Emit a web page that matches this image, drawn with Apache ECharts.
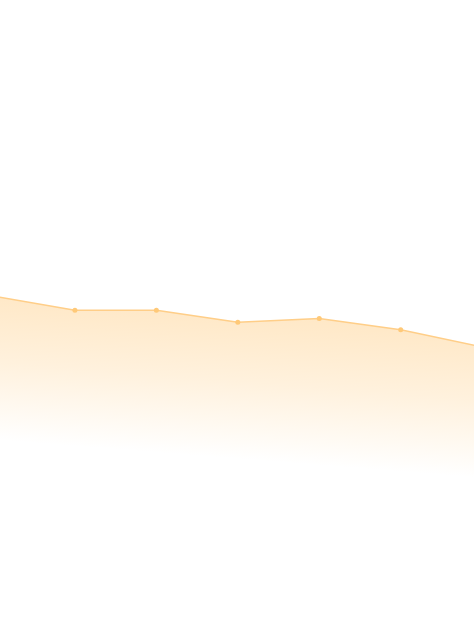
<!DOCTYPE html>
<html>
<head>
<meta charset="utf-8">
<script src="https://cdn.jsdelivr.net/npm/echarts@6/dist/echarts.min.js"></script>
<style>
html,body{margin:0;padding:0;background:#fff;}
#chart{width:474px;height:633px;}
</style>
</head>
<body>
<div id="chart"></div>
<script>
var categories = [0, 1, 2, 3, 4, 5, 6];
var values = [53.2, 51.0, 51.0, 49.1, 49.7, 47.9, 45.2];

var seriesData = categories.map(function (c, i) { return [c, values[i]]; });

var chart = echarts.init(document.getElementById('chart'), null, {renderer: 'canvas'});
chart.setOption({
  animation: false,
  backgroundColor: '#ffffff',
  grid: {left: 0, right: 0, top: 0, bottom: 0, containLabel: false},
  xAxis: {
    type: 'value',
    min: 0.08,
    max: 5.9,
    show: false
  },
  yAxis: {
    type: 'value',
    min: 0,
    max: 100,
    show: false
  },
  series: [{
    type: 'line',
    data: seriesData,
    symbol: 'circle',
    symbolSize: 5,
    showSymbol: true,
    clip: true,
    itemStyle: {color: '#FFC978'},
    lineStyle: {color: '#FFCE88', width: 1.5},
    areaStyle: {
      color: new echarts.graphic.LinearGradient(0.054, 0, 0, 1, [
        {offset: 0, color: 'rgba(255,190,95,0.5)'},
        {offset: 0.2, color: 'rgba(255,190,95,0.3)'},
        {offset: 0.43, color: 'rgba(255,190,95,0)'},
        {offset: 1, color: 'rgba(255,190,95,0)'}
      ])
    }
  }]
});
</script>
</body>
</html>
